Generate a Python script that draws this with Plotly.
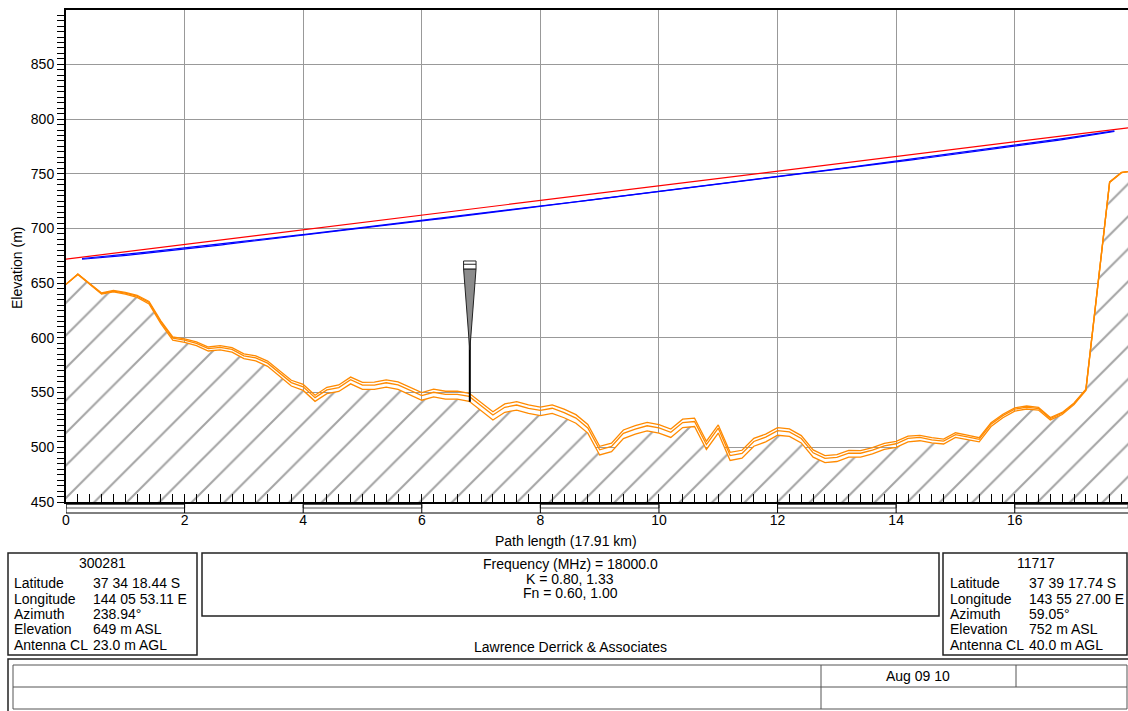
import numpy as np
import plotly.graph_objects as go

# ---- profile data -------------------------------------------------------
PATH_KM = 17.91
FREQ_GHZ = 18.0
K_FACTORS = [1.33, 0.80]
FN_VALUES = [0.60, 1.00]
# clearance criteria: (K, fraction of first Fresnel zone)
CRITERIA = [(0.80, 0.60), (1.33, 1.00)]

distance_km = [
    0.0, 0.2, 0.6, 0.8, 1.0, 1.2, 1.4, 1.6, 1.8, 2.0,
    2.2, 2.4, 2.6, 2.8, 3.0, 3.2, 3.4, 3.6, 3.8, 4.0,
    4.2, 4.4, 4.6, 4.8, 5.0, 5.2, 5.4, 5.6, 5.8, 6.0,
    6.2, 6.4, 6.6, 6.8, 7.2, 7.4, 7.6, 7.8, 8.0,
    8.2, 8.4, 8.6, 8.8, 9.0, 9.2, 9.4, 9.6, 9.8, 10.0,
    10.2, 10.4, 10.6, 10.8, 11.0, 11.2, 11.4, 11.6, 11.8, 12.0,
    12.2, 12.4, 12.6, 12.8, 13.0, 13.2, 13.4, 13.6, 13.8, 14.0,
    14.2, 14.4, 14.6, 14.8, 15.0, 15.2, 15.4, 15.6, 15.8, 16.0,
    16.2, 16.4, 16.6, 16.8, 17.0, 17.2, 17.6, 17.8, 17.91,
]
ground_m = [
    649, 658, 640, 642, 640, 637, 631, 613, 598, 596,
    593, 588, 589, 587, 581, 579, 574, 565, 556, 552,
    542, 549, 551, 558, 553, 553, 555, 553, 548, 543,
    546, 544, 544, 542, 525, 532, 534, 531, 529,
    531, 527, 522, 513, 493, 496, 508, 512, 515, 513,
    509, 518, 519, 498, 513, 488, 490, 501, 505, 511,
    510, 504, 491, 486, 487, 491, 491, 494, 498, 500,
    505, 506, 504, 503, 509, 507, 505, 519, 527, 533,
    535, 534, 525, 530, 539, 552, 742, 751, 752,
]

# site data
site_names = ["300281", "11717"]
site_elev = [649, 752]
antenna_cl = [23.0, 40.0]
info_labels = ["Latitude", "Longitude", "Azimuth", "Elevation", "Antenna CL"]
site_a_values = ["37 34 18.44 S", "144 05 53.11 E", "238.94°", "649 m ASL", "23.0 m AGL"]
site_b_values = ["37 39 17.74 S", "143 55 27.00 E", "59.05°", "752 m ASL", "40.0 m AGL"]

# obstruction marker (km, m)
MARK_KM = 6.81
MARK_HALF_W = 0.105
MARK_TIP_M = 589
MARK_TOP_M = 663
MARK_CAP_M = 670.3
MARK_CAP_MID_M = 667.3

# extent of the Fresnel clearance curves (km)
FRESNEL_START_KM = 0.27
FRESNEL_END_KM = 17.68

# ---- derived curves -----------------------------------------------------
d = np.array(distance_km)
g = np.array(ground_m, dtype=float)


def bulge(x, k):
    return x * (PATH_KM - x) / (12.74 * k)


ant_a = site_elev[0] + antenna_cl[0]
ant_b = site_elev[1] + antenna_cl[1]


def los(x):
    return ant_a + (ant_b - ant_a) * x / PATH_KM


xf = np.linspace(FRESNEL_START_KM, FRESNEL_END_KM, 200)
f1 = 17.32 * np.sqrt(xf * (PATH_KM - xf) / (FREQ_GHZ * PATH_KM))
k_ref = min(K_FACTORS)

ORANGE = "#ff8a00"
W, H = 1128, 711
PLOT_L, PLOT_T, PLOT_B = 66, 10, 502


def px(x):
    return x / W


def py(y):
    return 1 - y / H


fig = go.Figure()

# ground with hatching
fig.add_trace(go.Scatter(
    x=d, y=g, mode="lines", fill="tozeroy",
    fillcolor="white",
    fillpattern=dict(shape="/", fgcolor="#4a4a4a", bgcolor="white", size=23, solidity=0.09),
    line=dict(color=ORANGE, width=1.3), hoverinfo="skip",
))
for k in K_FACTORS:
    fig.add_trace(go.Scatter(
        x=d, y=g + bulge(d, k), mode="lines",
        line=dict(color=ORANGE, width=1.3), hoverinfo="skip",
    ))

# line of sight
fig.add_trace(go.Scatter(
    x=[0, PATH_KM], y=[ant_a, ant_b], mode="lines",
    line=dict(color="#ff0000", width=1.2), hoverinfo="skip",
))
# Fresnel clearance lines, referred to the lowest-K earth
for k, fn in CRITERIA:
    yc = los(xf) - fn * f1 + bulge(xf, k_ref) - bulge(xf, k)
    fig.add_trace(go.Scatter(
        x=xf, y=yc, mode="lines",
        line=dict(color="#0000ff", width=1.2), hoverinfo="skip",
    ))

# obstruction marker
mark_ground = float(np.interp(MARK_KM, d, g))
fig.add_trace(go.Scatter(
    x=[MARK_KM, MARK_KM], y=[mark_ground, MARK_TIP_M + 20], mode="lines",
    line=dict(color="black", width=2), hoverinfo="skip",
))
fig.add_trace(go.Scatter(
    x=[MARK_KM - MARK_HALF_W, MARK_KM + MARK_HALF_W, MARK_KM, MARK_KM - MARK_HALF_W],
    y=[MARK_TOP_M, MARK_TOP_M, MARK_TIP_M, MARK_TOP_M],
    mode="lines", fill="toself", fillcolor="#8c8c8c",
    line=dict(color="#222", width=1), hoverinfo="skip",
))
fig.add_trace(go.Scatter(
    x=[MARK_KM - MARK_HALF_W, MARK_KM + MARK_HALF_W, MARK_KM + MARK_HALF_W,
       MARK_KM - MARK_HALF_W, MARK_KM - MARK_HALF_W],
    y=[MARK_TOP_M, MARK_TOP_M, MARK_CAP_M, MARK_CAP_M, MARK_TOP_M],
    mode="lines", fill="toself", fillcolor="white",
    line=dict(color="#222", width=1), hoverinfo="skip",
))
fig.add_trace(go.Scatter(
    x=[MARK_KM - MARK_HALF_W, MARK_KM + MARK_HALF_W],
    y=[MARK_CAP_MID_M, MARK_CAP_MID_M], mode="lines",
    line=dict(color="#222", width=1), hoverinfo="skip",
))

shapes = []
# distance scale bar under the axis
bar_top, bar_bot = py(502), py(513)
seg_edges = list(np.arange(0, PATH_KM, 2.0)) + [PATH_KM]
for i in range(len(seg_edges) - 1):
    a, b = seg_edges[i], seg_edges[i + 1]
    if i % 2 == 0:
        shapes.append(dict(type="rect", xref="x", yref="paper", x0=a, x1=b,
                           y0=py(508), y1=py(504.5), line=dict(color="#555", width=1)))
    shapes.append(dict(type="line", xref="x", yref="paper", x0=a, x1=a,
                       y0=bar_top, y1=bar_bot, line=dict(color="black", width=1)))
shapes.append(dict(type="line", xref="x", yref="paper", x0=0, x1=PATH_KM,
                   y0=bar_bot, y1=bar_bot, line=dict(color="black", width=1)))


def box(x0, y0, x1, y1, color="#222", width=1.5):
    shapes.append(dict(type="rect", xref="paper", yref="paper",
                       x0=px(x0), x1=px(x1), y0=py(y1), y1=py(y0),
                       line=dict(color=color, width=width)))


def hline(x0, x1, y, color="#555", width=1):
    shapes.append(dict(type="line", xref="paper", yref="paper",
                       x0=px(x0), x1=px(x1), y0=py(y), y1=py(y),
                       line=dict(color=color, width=width)))


def vline(x, y0, y1, color="#555", width=1):
    shapes.append(dict(type="line", xref="paper", yref="paper",
                       x0=px(x), x1=px(x), y0=py(y0), y1=py(y1),
                       line=dict(color=color, width=width)))


# info panels
box(8, 553, 197, 655)
box(202, 553, 939, 616)
box(943, 553, 1127, 655)
box(8, 659, 1135, 730)
box(13, 665, 1127, 709, color="#555", width=1)
hline(13, 1127, 687)
vline(821, 665, 709)
vline(1016, 665, 687)

annotations = []


def text(x, y, s, anchor="left", size=14):
    annotations.append(dict(xref="paper", yref="paper", x=px(x), y=py(y), text=s,
                            showarrow=False, xanchor=anchor, yanchor="middle",
                            font=dict(size=size, color="black")))


text(102, 563, site_names[0], anchor="center")
text(1036, 563, site_names[1], anchor="center")
for i, lab in enumerate(info_labels):
    yy = 583.3 + i * 15.3
    text(12, yy, lab)
    text(91, yy, site_a_values[i])
    text(948, yy, lab)
    text(1027, yy, site_b_values[i])

text(570, 564, "Frequency (MHz) = %.1f" % (FREQ_GHZ * 1000), anchor="center")
text(570, 578.5, "K = %.2f, %.2f" % (K_FACTORS[1], K_FACTORS[0]), anchor="center")
text(570, 593, "Fn = %.2f, %.2f" % tuple(FN_VALUES), anchor="center")
text(570, 646.5, "Lawrence Derrick & Associates", anchor="center")
text(918, 676, "Aug 09 10", anchor="center")

# axis titles
text(566, 541, "Path length (%.2f km)" % PATH_KM, anchor="center")
annotations.append(dict(xref="paper", yref="paper", x=px(17), y=py(268),
                        text="Elevation (m)", textangle=-90, showarrow=False,
                        xanchor="center", yanchor="middle",
                        font=dict(size=14, color="black")))

fig.update_layout(
    width=W, height=H,
    margin=dict(l=0, r=0, t=0, b=0, pad=0, autoexpand=False),
    paper_bgcolor="white", plot_bgcolor="white",
    showlegend=False,
    font=dict(family="Liberation Sans, Arial, sans-serif", size=14, color="black"),
    shapes=shapes, annotations=annotations,
    xaxis=dict(
        domain=[px(PLOT_L), 1], range=[0, PATH_KM], automargin=False,
        tickmode="linear", tick0=0, dtick=2,
        showgrid=True, gridcolor="#999", gridwidth=1,
        showline=True, linecolor="black", linewidth=2, mirror=True,
        ticks="inside", ticklen=8, tickcolor="black", tickwidth=1,
        minor=dict(tickmode="linear", tick0=0, dtick=0.2, ticks="inside",
                   ticklen=8, tickcolor="black", tickwidth=1, showgrid=False),
        ticklabelstandoff=4, zeroline=False,
    ),
    yaxis=dict(
        domain=[py(PLOT_B), py(PLOT_T)], range=[450, 899.7], automargin=False,
        tickmode="linear", tick0=450, dtick=50,
        showgrid=True, gridcolor="#999", gridwidth=1,
        showline=True, linecolor="black", linewidth=2,
        ticks="outside", ticklen=7, tickcolor="black", tickwidth=1,
        minor=dict(tickmode="linear", tick0=450, dtick=5, ticks="outside",
                   ticklen=7, tickcolor="black", tickwidth=1, showgrid=False),
        zeroline=False,
    ),
)

fig.write_html("out.html")
